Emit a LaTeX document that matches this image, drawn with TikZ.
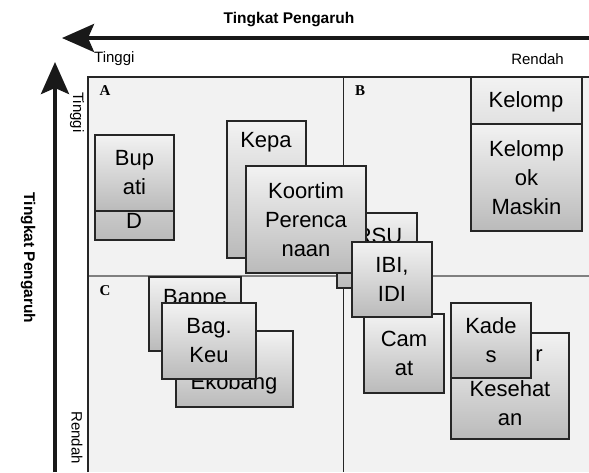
\documentclass[tikz,border=0pt]{standalone}
\usepackage{fontspec}
\setmainfont{Liberation Sans}
\newfontfamily\abcfont{Liberation Serif}
\usetikzlibrary{arrows.meta}
\newcommand\bx[6]{\node[box, minimum width={(#4-#2)*1pt}, minimum height={(#5-#3)*1pt}] (#1) at ({(#2+#4)/2},{(#3+#5)/2}) {#6};}
\begin{document}
\begin{tikzpicture}[x=1pt,y=-1pt,
  box/.style={draw=black!85, line width=1.4pt, top color=white!95!black, bottom color=white!73!black, inner sep=0pt, align=center, font=\fontsize{22}{29}\selectfont},
  boxtxt/.style={inner sep=0pt, align=center, font=\fontsize{22}{29}\selectfont},
  axisarrow/.style={line width=4pt, draw=black!90, -{Stealth[length=32pt,width=28pt,inset=6pt]}},
  axtitle/.style={font=\bfseries\fontsize{15.5}{18}\selectfont, inner sep=0pt},
  axlabel/.style={font=\fontsize{15}{18}\selectfont, inner sep=0pt},
  quad/.style={font=\abcfont\bfseries\fontsize{15}{18}\selectfont, inner sep=0pt}]
\useasboundingbox (0,0) rectangle (589,472);
\fill[white] (0,0) rectangle (589,472);
\fill[black!5] (88,77) rectangle (589,472);
% dividers
\coordinate (vt) at (343,77); \coordinate (vb) at (343,472);
\coordinate (hl) at (88,276); \coordinate (hr) at (589,276);
\draw[line width=1pt, black!85] (vt) -- (vb);
\draw[line width=2pt, black!50] (hl) -- (hr);
% frame
\coordinate (fbl) at (88,472); \coordinate (ftl) at (88,77); \coordinate (ftr) at (589,77);
\draw[line width=2pt, black!85] (fbl) -- (ftl) -- (ftr);
% axes
\coordinate (hs) at (589,38); \coordinate (he) at (62,38);
\draw[axisarrow] (hs) -- (he);
\coordinate (vs) at (55,472); \coordinate (ve) at (55,62);
\draw[axisarrow] (vs) -- (ve);
\node[axtitle] (ttop) at (289,20) {Tingkat Pengaruh};
\node[axtitle, rotate=-90] (tleft) at (28,258) {Tingkat Pengaruh};
\node[axlabel, anchor=west] (tinggiH) at (94,59) {Tinggi};
\node[axlabel, anchor=east] (rendahH) at (564,59) {Rendah};
\node[axlabel, rotate=-90, anchor=west] (tinggiV) at (77,92) {Tinggi};
\node[axlabel, rotate=-90, anchor=west] (rendahV) at (77,411) {Rendah};
% quadrant letters
\node[quad] (qa) at (105,91) {A};
\node[quad] (qb) at (360,91) {B};
\node[quad] (qc) at (105,291) {C};
% quadrant A
\bx{bupB}{95}{135}{174}{240}{}
\node[boxtxt] (bupBt) at (134,221) {D};
\bx{bup}{95}{135}{174}{211}{Bup\\ati}
\bx{kepa}{227}{121}{306}{258}{}
\node[boxtxt] (kepat) at (266,142) {Kepa};
\bx{rsu}{337}{213}{417}{288}{}
\node[boxtxt] (rsut) at (379,236) {RSU};
\bx{koortim}{246}{166}{366}{273}{Koortim\\Perenca\\naan}
% quadrant B
\bx{kelB}{471}{77}{582}{231}{}
\node[boxtxt] (kelBt) at (526,102) {Kelomp};
\bx{kel}{471}{124}{582}{231}{Kelomp\\ok\\Maskin}
% quadrant C
\bx{bappe}{149}{277}{241}{351}{}
\node[boxtxt] (bappet) at (195,299) {Bappe};
\bx{eko}{176}{331}{293}{407}{}
\node[boxtxt] (ekot) at (234,384) {Ekobang};
\bx{keu}{162}{303}{256}{379}{Bag.\\Keu}
% quadrant D
\bx{camat}{364}{314}{444}{393}{Cam\\at}
\bx{ibi}{352}{242}{432}{317}{IBI,\\IDI}
\bx{kader}{451}{333}{569}{439}{}
\node[boxtxt] (kadert) at (539,356) {r};
\node[boxtxt] (kadert2) at (510,403) {Kesehat\\an};
\bx{kades}{451}{303}{531}{378}{Kade\\s}
\end{tikzpicture}
\end{document}
